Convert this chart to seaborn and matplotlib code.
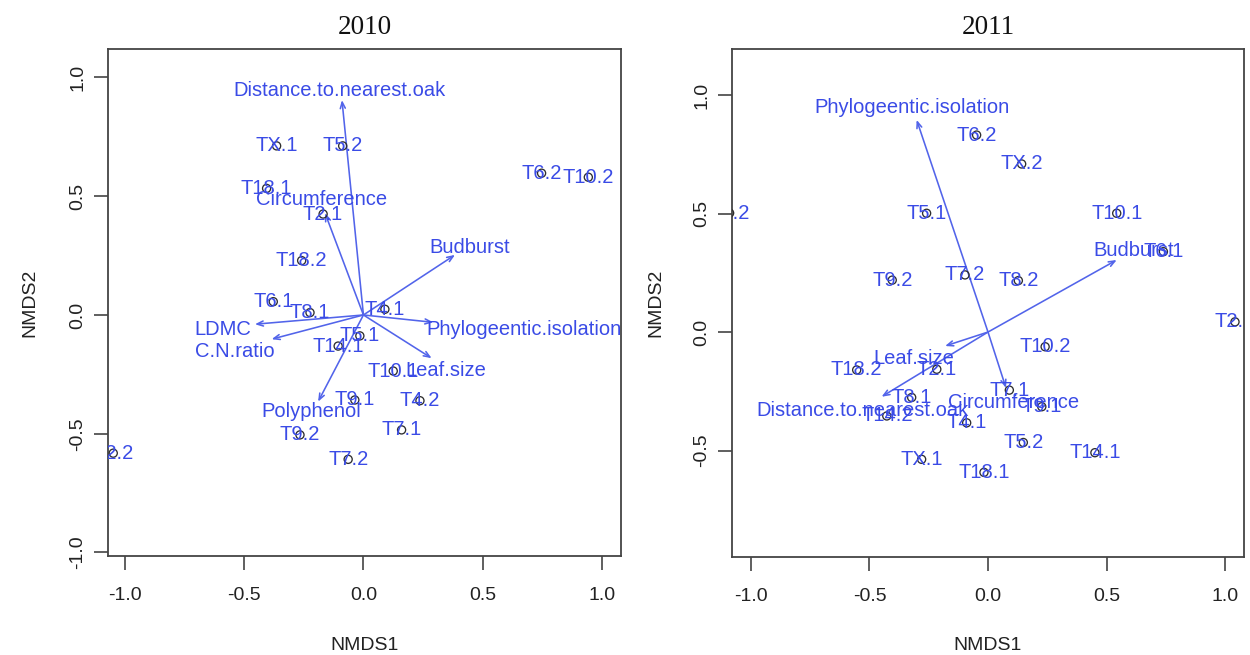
import matplotlib
matplotlib.use("Agg")
import matplotlib.pyplot as plt
import pandas as pd
import seaborn as sns

# ---------------- data: 2010 ----------------
sites_2010 = ["TX.1", "T5.2", "T6.2", "T10.2", "T18.1", "T2.1", "T18.2", "T6.1", "T8.1",
              "T4.1", "T5.1", "T14.1", "T10.1", "T9.1", "T4.2", "T7.1", "T9.2", "T7.2", "T2.2"]
nmds1_2010 = [-0.364, -0.087, 0.747, 0.943, -0.406, -0.169, -0.259, -0.378, -0.224,
              0.090, -0.015, -0.106, 0.125, -0.036, 0.237, 0.160, -0.266, -0.064, -1.049]
nmds2_2010 = [0.712, 0.712, 0.597, 0.580, 0.533, 0.425, 0.229, 0.056, 0.010,
              0.024, -0.088, -0.131, -0.236, -0.358, -0.361, -0.484, -0.505, -0.608, -0.582]

vectors_2010 = ["Distance.to.nearest.oak", "Circumference", "Budburst", "LDMC", "C.N.ratio",
                "Phylogeentic.isolation", "Leaf.size", "Polyphenol"]
vec1_2010 = [-0.090, -0.161, 0.384, -0.455, -0.385, 0.293, 0.286, -0.190]
vec2_2010 = [0.905, 0.429, 0.253, -0.039, -0.102, -0.031, -0.182, -0.365]
lab1_2010 = [-0.099, -0.175, 0.447, -0.589, -0.539, 0.672, 0.346, -0.217]
lab2_2010 = [0.947, 0.487, 0.286, -0.060, -0.152, -0.063, -0.232, -0.407]

# ---------------- data: 2011 ----------------
sites_2011 = ["T6.2", "TX.2", "T4.2", "T5.1", "T10.1", "T6.1", "T9.2", "T7.2", "T8.2",
              "T2.2", "T10.2", "T18.2", "T2.1", "T7.1", "T8.1", "T14.2", "T4.1", "T9.1",
              "T5.2", "T14.1", "TX.1", "T18.1"]
nmds1_2011 = [-0.048, 0.142, -1.090, -0.259, 0.543, 0.740, -0.404, -0.097, 0.128,
              1.042, 0.241, -0.554, -0.216, 0.090, -0.322, -0.427, -0.090, 0.227,
              0.149, 0.451, -0.280, -0.017]
nmds2_2011 = [0.831, 0.709, 0.502, 0.501, 0.501, 0.339, 0.219, 0.241, 0.217,
              0.043, -0.062, -0.160, -0.157, -0.245, -0.276, -0.354, -0.383, -0.315,
              -0.466, -0.509, -0.537, -0.592]

vectors_2011 = ["Phylogeentic.isolation", "Budburst", "Leaf.size",
                "Distance.to.nearest.oak", "Circumference"]
vec1_2011 = [-0.301, 0.543, -0.181, -0.449, 0.076]
vec2_2011 = [0.895, 0.304, -0.059, -0.273, -0.236]
lab1_2011 = [-0.322, 0.616, -0.315, -0.530, 0.107]
lab2_2011 = [0.948, 0.343, -0.111, -0.329, -0.298]

ticks = [-1.0, -0.5, 0.0, 0.5, 1.0]
tick_labels = ["-1.0", "-0.5", "0.0", "0.5", "1.0"]

TEXT_BLUE = "#3a4be6"
ARROW_BLUE = "#5264ea"
FRAME = "#444444"

sns.set_style("white")
plt.rcParams["font.family"] = ["Liberation Sans", "DejaVu Sans"]

W, H = 1250, 655
fig = plt.figure(figsize=(12.5, 6.55), dpi=100)


def px_axes(x0, y0, x1, y1):
    return fig.add_axes([x0 / W, 1 - y1 / H, (x1 - x0) / W, (y1 - y0) / H])


ax1 = px_axes(108, 49, 621, 556)
ax2 = px_axes(732, 49, 1244, 557)


def draw(ax, title, sites, n1, n2, vecs, v1, v2, l1, l2, xlim, ylim, yt):
    df = pd.DataFrame({"NMDS1": n1, "NMDS2": n2, "site": sites})
    sns.scatterplot(data=df, x="NMDS1", y="NMDS2", ax=ax, marker="o", s=34,
                    facecolors="none", edgecolor="#2e2e2e", linewidth=0.95,
                    legend=False, zorder=3)
    for s, x, y in zip(sites, n1, n2):
        ax.text(x, y, s, color=TEXT_BLUE, fontsize=14.5, ha="center", va="center",
                clip_on=True, zorder=4)
    for name, x, y, lx, ly in zip(vecs, v1, v2, l1, l2):
        ax.annotate("", xy=(x, y), xytext=(0, 0),
                    arrowprops=dict(arrowstyle="->,head_length=0.45,head_width=0.18",
                                    color=ARROW_BLUE, lw=1.15, shrinkA=0, shrinkB=0),
                    zorder=2, annotation_clip=True)
        ax.text(lx, ly, name, color=TEXT_BLUE, fontsize=14.5, ha="center", va="center",
                clip_on=True, zorder=4)
    ax.set_xlim(*xlim)
    ax.set_ylim(*ylim)
    ax.set_xticks(ticks)
    ax.set_xticklabels(tick_labels)
    ax.set_yticks(yt)
    ax.set_yticklabels([tick_labels[ticks.index(t)] for t in yt], rotation=90, va="center")
    ax.tick_params(axis="both", which="major", direction="out", length=10, width=1.2,
                   color=FRAME, labelsize=14, labelcolor="#222222",
                   bottom=True, left=True)
    ax.tick_params(axis="x", pad=12.5)
    ax.tick_params(axis="y", pad=5.5)
    for sp in ax.spines.values():
        sp.set_color(FRAME)
        sp.set_linewidth(1.3)
        sp.set_visible(True)
    ax.set_xlabel("NMDS1", fontsize=14, color="#222222")
    ax.set_ylabel("NMDS2", fontsize=14, color="#222222")
    ax.xaxis.label.set_va("center")
    ax.yaxis.label.set_va("center")
    ax.set_title(title, fontfamily=["Liberation Serif", "DejaVu Serif"], fontsize=19.5,
                 pad=10.8, color="#111111")


draw(ax1, "2010", sites_2010, nmds1_2010, nmds2_2010, vectors_2010,
     vec1_2010, vec2_2010, lab1_2010, lab2_2010,
     xlim=(-1.071, 1.080), ylim=(-1.015, 1.120), yt=ticks)
draw(ax2, "2011", sites_2011, nmds1_2011, nmds2_2011, vectors_2011,
     vec1_2011, vec2_2011, lab1_2011, lab2_2011,
     xlim=(-1.080, 1.080), ylim=(-0.949, 1.194), yt=ticks[1:])

# axis label positions (pixel centres from the reference)
ax1.xaxis.set_label_coords(0.5, (556 - 645) / 507)
ax1.yaxis.set_label_coords((30 - 108) / 513, 0.5)
ax2.xaxis.set_label_coords(0.5, (557 - 645) / 508)
ax2.yaxis.set_label_coords((656 - 732) / 512, 0.5)

fig.savefig("out.png", dpi=100)
